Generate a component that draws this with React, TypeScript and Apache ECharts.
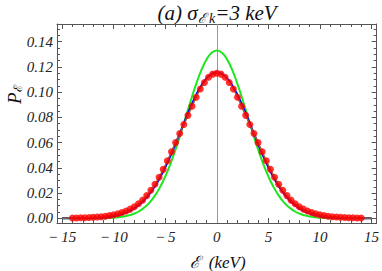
import React, { useEffect, useRef } from "react";
import * as echarts from "echarts";

// grid of the smooth curves (keV)
const curveX = [-15, -14.5, -14, -13.5, -13, -12.5, -12, -11.5, -11, -10.5, -10, -9.5, -9, -8.5, -8, -7.5, -7, -6.5, -6, -5.5, -5, -4.5, -4, -3.5, -3, -2.5, -2, -1.5, -1, -0.5, 0, 0.5, 1, 1.5, 2, 2.5, 3, 3.5, 4, 4.5, 5, 5.5, 6, 6.5, 7, 7.5, 8, 8.5, 9, 9.5, 10, 10.5, 11, 11.5, 12, 12.5, 13, 13.5, 14, 14.5, 15];
// green curve
const greenY = [0, 0, 0, 0, 0, 0, 0.00004, 0.0001, 0.00016, 0.0003, 0.0005, 0.0009, 0.0015, 0.0024, 0.0038, 0.0058, 0.0087, 0.0127, 0.018, 0.0248, 0.0332, 0.0432, 0.0547, 0.0673, 0.0807, 0.094, 0.1065, 0.1174, 0.1258, 0.1312, 0.133, 0.1312, 0.1258, 0.1174, 0.1065, 0.094, 0.0807, 0.0673, 0.0547, 0.0432, 0.0332, 0.0248, 0.018, 0.0127, 0.0087, 0.0058, 0.0038, 0.0024, 0.0015, 0.0009, 0.0005, 0.0003, 0.00016, 0.0001, 0.00004, 0, 0, 0, 0, 0, 0];
// blue curve
const blueY = [0.00001, 0.00002, 0.00003, 0.00006, 0.0001, 0.00016, 0.00027, 0.00045, 0.0007, 0.0011, 0.0017, 0.0026, 0.0039, 0.0056, 0.0079, 0.0109, 0.0148, 0.0196, 0.0255, 0.0325, 0.0405, 0.0494, 0.0591, 0.0692, 0.0793, 0.089, 0.0978, 0.1053, 0.1109, 0.1145, 0.1157, 0.1145, 0.1109, 0.1053, 0.0978, 0.089, 0.0793, 0.0692, 0.0591, 0.0494, 0.0405, 0.0325, 0.0255, 0.0196, 0.0148, 0.0109, 0.0079, 0.0056, 0.0039, 0.0026, 0.0017, 0.0011, 0.0007, 0.00045, 0.00027, 0.00016, 0.0001, 0.00006, 0.00003, 0.00002, 0.00001];
// red points
const redX = [-14, -13.6, -13.2, -12.8, -12.4, -12, -11.6, -11.2, -10.8, -10.4, -10, -9.6, -9.2, -8.8, -8.4, -8, -7.6, -7.2, -6.8, -6.4, -6, -5.6, -5.2, -4.8, -4.4, -4, -3.6, -3.2, -2.8, -2.4, -2, -1.6, -1.2, -0.8, -0.4, 0, 0.4, 0.8, 1.2, 1.6, 2, 2.4, 2.8, 3.2, 3.6, 4, 4.4, 4.8, 5.2, 5.6, 6, 6.4, 6.8, 7.2, 7.6, 8, 8.4, 8.8, 9.2, 9.6, 10, 10.4, 10.8, 11.2, 11.6, 12, 12.4, 12.8, 13.2, 13.6, 14];
const redY = [0.0002, 0.0003, 0.0004, 0.0005, 0.0006, 0.0008, 0.001, 0.0013, 0.0017, 0.0022, 0.0028, 0.0036, 0.0046, 0.0058, 0.0073, 0.0092, 0.0116, 0.0144, 0.018, 0.0222, 0.027, 0.0326, 0.0388, 0.0456, 0.0528, 0.06, 0.0672, 0.0744, 0.0816, 0.0888, 0.096, 0.1025, 0.1077, 0.1118, 0.1143, 0.115, 0.1143, 0.1118, 0.1077, 0.1025, 0.096, 0.0888, 0.0816, 0.0744, 0.0672, 0.06, 0.0528, 0.0456, 0.0388, 0.0326, 0.027, 0.0222, 0.018, 0.0144, 0.0116, 0.0092, 0.0073, 0.0058, 0.0046, 0.0036, 0.0028, 0.0022, 0.0017, 0.0013, 0.001, 0.0008, 0.0006, 0.0005, 0.0004, 0.0003, 0.0002];
// brown curve end points beyond red points
const brownEndX = [-15, 15];
const brownEndY = [0.0001, 0.0001];

const xMajor = [-15, -10, -5, 0, 5, 10, 15];
const xMinor = [-15, -14, -13, -12, -11, -10, -9, -8, -7, -6, -5, -4, -3, -2, -1, 0, 1, 2, 3, 4, 5, 6, 7, 8, 9, 10, 11, 12, 13, 14, 15];
const yMajor = [0, 0.02, 0.04, 0.06, 0.08, 0.1, 0.12, 0.14];
const yMinor = [0, 0.005, 0.01, 0.015, 0.02, 0.025, 0.03, 0.035, 0.04, 0.045, 0.05, 0.055, 0.06, 0.065, 0.07, 0.075, 0.08, 0.085, 0.09, 0.095, 0.1, 0.105, 0.11, 0.115, 0.12, 0.125, 0.13, 0.135, 0.14, 0.145, 0.15];

const FONT = "Liberation Serif";
const FRAME = "#555";
const XMIN = -15.5, XMAX = 15.5, YMIN = -0.0037, YMAX = 0.154;

function xAxisDef(position: string, major: boolean, labels: boolean): any {
  return {
    type: "value", min: XMIN, max: XMAX, position,
    axisLine: { show: major, onZero: false, lineStyle: { color: FRAME, width: 1 } },
    axisTick: { show: true, inside: true, length: major ? 5 : 3, customValues: major ? xMajor : xMinor, lineStyle: { color: FRAME, width: 1 } },
    axisLabel: labels
      ? { show: true, customValues: xMajor, fontFamily: FONT, fontStyle: "italic", fontSize: 15, color: "#222", margin: 6,
          formatter: (v: number) => (v < 0 ? "\u2212\u2009" + Math.abs(v) : String(v)) }
      : { show: false },
    splitLine: { show: false },
  };
}
function yAxisDef(position: string, major: boolean, labels: boolean): any {
  return {
    type: "value", min: YMIN, max: YMAX, position,
    axisLine: { show: major, onZero: false, lineStyle: { color: FRAME, width: 1 } },
    axisTick: { show: true, inside: true, length: major ? 5 : 3, customValues: major ? yMajor : yMinor, lineStyle: { color: FRAME, width: 1 } },
    axisLabel: labels
      ? { show: true, customValues: yMajor, fontFamily: FONT, fontStyle: "italic", fontSize: 15, color: "#222", margin: 4,
          formatter: (v: number) => v.toFixed(2) }
      : { show: false },
    splitLine: { show: false },
  };
}

export default function App() {
  const ref = useRef<HTMLDivElement>(null);
  useEffect(() => {
    if (!ref.current) return;
    const chart = echarts.init(ref.current, null, { renderer: "svg" });
    const green = curveX.map((x, i) => [x, greenY[i]]);
    const blue = curveX.map((x, i) => [x, blueY[i]]);
    const red = redX.map((x, i) => [x, redY[i]]);
    const brown = [[brownEndX[0], brownEndY[0]], ...red, [brownEndX[1], brownEndY[1]]];
    chart.setOption({
      animation: false,
      grid: { left: 57, right: 5, top: 24, bottom: 48 },
      xAxis: [xAxisDef("bottom", true, true), xAxisDef("bottom", false, false), xAxisDef("top", true, false), xAxisDef("top", false, false)],
      yAxis: [yAxisDef("left", true, true), yAxisDef("left", false, false), yAxisDef("right", true, false), yAxisDef("right", false, false)],
      graphic: [
        {
          type: "text", x: 217, y: 13,
          style: {
            text: "(a) σ{sub|ℰ k}=3 keV",
            fontFamily: FONT, fontStyle: "italic", fontSize: 21, fill: "#111",
            align: "center", verticalAlign: "middle",
            rich: { sub: { fontSize: 14, fontFamily: FONT, fontStyle: "italic", fill: "#111", padding: [10, 0, 0, 0] } },
          },
        },
        {
          type: "text", x: 5, y: 104, rotation: Math.PI / 2,
          style: {
            text: "P{sub|ℰ}", fontFamily: FONT, fontStyle: "italic", fontSize: 19, fill: "#111",
            rich: { sub: { fontSize: 12, fontFamily: FONT, fill: "#111", padding: [7, 0, 0, 0] } },
          },
        },
        {
          type: "text", x: 218, y: 262,
          style: { text: "ℰ  (keV)", fontFamily: FONT, fontStyle: "italic", fontSize: 17, fill: "#111", align: "center", verticalAlign: "middle" },
        },
      ],
      series: [
        {
          type: "line", data: green, xAxisIndex: 0, yAxisIndex: 0, smooth: true, showSymbol: false,
          lineStyle: { color: "#1ee61e", width: 2 }, z: 2,
          markLine: { silent: true, symbol: "none", label: { show: false }, data: [{ xAxis: 0 }], lineStyle: { color: "#999", width: 1, type: "solid" } },
        },
        { type: "line", data: blue, xAxisIndex: 0, yAxisIndex: 0, smooth: true, showSymbol: false, lineStyle: { color: "#0000ee", width: 2 }, z: 3 },
        { type: "line", data: brown, xAxisIndex: 0, yAxisIndex: 0, smooth: true, showSymbol: false, lineStyle: { color: "#996633", width: 1.5 }, z: 4 },
        { type: "scatter", data: red, xAxisIndex: 0, yAxisIndex: 0, symbol: "circle", symbolSize: 7, itemStyle: { color: "#ff0000" }, z: 5 },
      ],
    });
    return () => chart.dispose();
  }, []);
  return <div ref={ref} style={{ width: 382, height: 271, position: "absolute", left: 0, top: 0 }} />;
}
